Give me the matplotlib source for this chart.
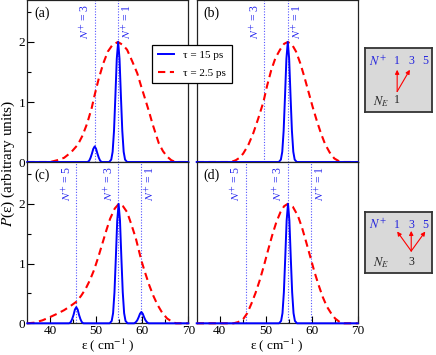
import matplotlib
matplotlib.use("Agg")
import matplotlib.pyplot as plt

plt.rcParams['font.family'] = ['Liberation Serif', 'DejaVu Serif']
plt.rcParams['mathtext.fontset'] = 'stix'

# ---- data ----
# panel (a): N_E = 1, tau = 15 ps (blue) and tau = 2.5 ps (red)
eps_blue_a = [35, 48.1, 48.45, 48.75, 49.05, 49.35, 49.65, 49.95, 50.25, 50.55, 50.85, 51.2,
              52.8, 53.25, 53.55, 53.85, 54.15, 54.45, 54.75, 55.05, 55.35, 55.65, 55.95, 56.25, 56.7, 70]
blue_a = [0, 0, 0.02, 0.07, 0.14, 0.22, 0.26, 0.22, 0.14, 0.07, 0.02, 0,
          0, 0.04, 0.17, 0.52, 1.10, 1.72, 2.0, 1.72, 1.10, 0.52, 0.17, 0.04, 0, 0]
eps_red_a = [35, 40, 41.5, 43, 44.5, 46, 47, 48, 49, 49.65, 50.5, 51.5, 52.5, 53.5, 54.7,
             55.8, 56.7, 57.8, 58.9, 59.8, 60.7, 61.5, 62.2, 63.0, 63.6, 64.5, 65.4, 66.3, 67.2, 70]
red_a = [0, 0, 0.03, 0.07, 0.16, 0.29, 0.44, 0.64, 0.90, 1.12, 1.38, 1.64, 1.84, 1.95, 2.0,
         1.95, 1.87, 1.68, 1.48, 1.25, 1.03, 0.83, 0.64, 0.45, 0.31, 0.18, 0.09, 0.03, 0, 0]

# panel (b)
eps_blue_b = [35, 52.85, 53.3, 53.6, 53.9, 54.2, 54.5, 54.8, 55.1, 55.4, 55.7, 56.0, 56.3, 56.75, 70]
blue_b = [0, 0, 0.04, 0.17, 0.52, 1.10, 1.72, 2.0, 1.72, 1.10, 0.52, 0.17, 0.04, 0, 0]
eps_red_b = [35, 42.5, 43.5, 44.3, 45.1, 46.2, 47.3, 48.4, 49.5, 50.3, 51.2, 52.1, 53.1, 54.0, 54.8,
             55.7, 56.6, 57.5, 58.4, 59.3, 60.2, 61.1, 62.0, 62.9, 63.9, 64.9, 66.0, 67.0, 70]
red_b = [0, 0, 0.03, 0.07, 0.14, 0.28, 0.48, 0.73, 1.0, 1.27, 1.53, 1.73, 1.87, 1.97, 2.0,
         1.96, 1.84, 1.65, 1.42, 1.17, 0.92, 0.69, 0.48, 0.30, 0.16, 0.06, 0.01, 0, 0]

# panel (c): N_E = 3
eps_blue_c = [35, 44.1, 44.45, 44.75, 45.05, 45.35, 45.65, 45.95, 46.25, 46.55, 46.85, 47.2,
              52.9, 53.35, 53.65, 53.95, 54.25, 54.55, 54.85, 55.15, 55.45, 55.75, 56.05, 56.35, 56.8,
              58.25, 58.6, 58.9, 59.2, 59.5, 59.8, 60.1, 60.4, 60.7, 61.0, 61.35, 70]
blue_c = [0, 0, 0.02, 0.07, 0.14, 0.23, 0.27, 0.23, 0.14, 0.07, 0.02, 0,
          0, 0.04, 0.17, 0.52, 1.10, 1.72, 2.0, 1.72, 1.10, 0.52, 0.17, 0.04, 0,
          0, 0.02, 0.05, 0.10, 0.16, 0.19, 0.16, 0.10, 0.05, 0.02, 0, 0]
eps_red_c = [35, 36.5, 38.3, 40.1, 41.5, 43.0, 44.4, 45.65, 46.7, 47.7, 48.6, 49.5, 50.4, 51.3,
             52.2, 53.0, 54.0, 54.9, 55.8, 56.7, 57.6, 58.6, 59.8, 60.6, 61.5, 62.4, 63.3, 64.3,
             65.4, 66.4, 67.3, 70]
red_c = [0, 0.01, 0.05, 0.11, 0.16, 0.22, 0.29, 0.36, 0.46, 0.58, 0.72, 0.89, 1.10, 1.33,
         1.56, 1.75, 1.92, 2.0, 1.96, 1.86, 1.66, 1.42, 1.05, 0.85, 0.64, 0.46, 0.31, 0.18,
         0.08, 0.03, 0, 0]

# panel (d)
eps_blue_d = [35, 52.9, 53.35, 53.65, 53.95, 54.25, 54.55, 54.85, 55.15, 55.45, 55.75, 56.05, 56.35, 56.8, 70]
blue_d = [0, 0, 0.04, 0.17, 0.52, 1.10, 1.72, 2.0, 1.72, 1.10, 0.52, 0.17, 0.04, 0, 0]
eps_red_d = [35, 43.0, 44.0, 45.1, 46.0, 46.9, 47.8, 48.7, 49.6, 50.5, 51.4, 52.3, 53.2, 54.0, 54.8,
             55.9, 57.0, 57.9, 58.8, 59.7, 60.6, 61.5, 62.4, 63.3, 64.2, 65.1, 66.1, 67.0, 70]
red_d = [0, 0, 0.02, 0.07, 0.17, 0.33, 0.51, 0.72, 0.96, 1.22, 1.47, 1.69, 1.86, 1.96, 2.0,
         1.95, 1.80, 1.60, 1.36, 1.11, 0.86, 0.64, 0.44, 0.28, 0.17, 0.08, 0.02, 0, 0]

# rotational line positions and their labels
lines_top = [49.65, 54.8]
labels_top = ['3', '1']
lines_bot = [45.65, 54.8, 59.8]
labels_bot = ['5', '3', '1']

panels = [
    ('(a)', eps_blue_a, blue_a, eps_red_a, red_a, lines_top, labels_top),
    ('(b)', eps_blue_b, blue_b, eps_red_b, red_b, lines_top, labels_top),
    ('(c)', eps_blue_c, blue_c, eps_red_c, red_c, lines_bot, labels_bot),
    ('(d)', eps_blue_d, blue_d, eps_red_d, red_d, lines_bot, labels_bot),
]

W, H = 436, 355
fig = plt.figure(figsize=(W / 100, H / 100), dpi=100)

# axes boxes in pixels: left, top, width, height
boxes = [(27.3, 0, 161, 162), (196.7, 0, 161, 162),
         (27.3, 162, 161, 161.3), (196.7, 162, 161, 161.3)]

blue = '#0000ff'
red = '#ff0000'
dotblue = '#5555ff'

axes = []
for i, (name, xb, yb, xr, yr, lpos, llab) in enumerate(panels):
    l, t, w, h = boxes[i]
    ax = fig.add_axes([l / W, 1 - (t + h) / H, w / W, h / H])
    axes.append(ax)
    for k, p in enumerate(lpos):
        ax.axvline(p, color=dotblue, lw=0.8, ls=(0, (1, 1.5)), zorder=1)
        off = 2.0 if llab[k] == '1' else -2.0
        ax.text(p + off, 2.64, r'$N^{+}$ = ' + llab[k], rotation=90, ha='center', va='top',
                color='#2828ee', fontsize=8.5)
    ax.plot(xr, yr, color=red, lw=1.5, dashes=(3.5, 2.2), zorder=3, clip_on=False)
    ax.plot(xb, yb, color=blue, lw=1.4, zorder=4, clip_on=False)
    ax.set_xlim(35, 70)
    ax.set_ylim(0, 2.7)
    ax.text(0.042, 0.92, name, transform=ax.transAxes, fontsize=10, va='center', ha='left')
    for s in ax.spines.values():
        s.set_color('#222222')
        s.set_linewidth(0.9)
    ax.tick_params(which='both', direction='in', top=False, right=False, width=0.8,
                   labelsize=9.5, pad=1.5)
    ax.tick_params(which='major', length=5)
    ax.tick_params(which='minor', length=2.8)
    if i in (0, 2):
        ax.set_yticks([0, 1, 2])
        ax.set_yticks([0.5, 1.5, 2.5], minor=True)
    else:
        ax.set_yticks([])
        ax.set_yticks([], minor=True)
    if i in (2, 3):
        ax.set_xticks([40, 50, 60, 70])
        ax.set_xticks([45, 55, 65], minor=True)
        cx = (l + w / 2) / W
        fig.text(cx, 1 - 354 / H, r'ε ( cm$^{-1}$ )', ha='center', va='bottom', fontsize=9.5)
    else:
        ax.set_xticks([])
        ax.set_xticks([], minor=True)

fig.text(8 / W, 1 - 163 / H, r'$P$(ε) (arbitrary units)', rotation=90, ha='center',
         va='center', fontsize=11)

# legend
h1, = axes[0].plot([], [], color=blue, lw=1.4, label='τ = 15 ps')
h2, = axes[0].plot([], [], color=red, lw=1.5, dashes=(3.5, 2.2), label='τ = 2.5 ps')
leg = fig.legend(handles=[h1, h2], loc='upper left', bbox_to_anchor=(152 / W, 1 - 45 / H),
                 borderaxespad=0, fancybox=False, fontsize=8, handlelength=1.5,
                 handletextpad=0.8, borderpad=0.5, labelspacing=0.7, framealpha=1)
leg.get_frame().set_edgecolor('black')
leg.get_frame().set_linewidth(0.9)


# schematic insets
def inset(top, height, low_label, starts, ends, low_x):
    a = fig.add_axes([365 / W, 1 - (top + height) / H, 67 / W, height / H])
    a.set_facecolor('#d9d9d9')
    a.set_xlim(0, 1)
    a.set_ylim(0, 1)
    a.set_xticks([])
    a.set_yticks([])
    for s in a.spines.values():
        s.set_color('#333333')
        s.set_linewidth(1.3)
    yt = 0.79
    a.text(0.19, yt, r'$N^{+}$', color='#2020dd', fontsize=9, ha='center', va='center')
    for xx, t in zip([0.48, 0.69, 0.90], ['1', '3', '5']):
        a.text(xx, yt, t, color='#2020dd', fontsize=8.5, ha='center', va='center')
    a.text(0.24, 0.17, r'$N_E$', color='#222222', fontsize=9, ha='center', va='center')
    a.text(low_x, 0.18, low_label, color='#222222', fontsize=8.5, ha='center', va='center')
    for e in ends:
        a.annotate('', xy=e, xytext=starts,
                   arrowprops=dict(arrowstyle='-|>', color=red, lw=0.8,
                                   mutation_scale=6, shrinkA=0, shrinkB=0))


inset(48, 64, '1', (0.48, 0.32), [(0.48, 0.66), (0.67, 0.66)], 0.48)
inset(212, 61, '3', (0.69, 0.36), [(0.48, 0.68), (0.69, 0.69), (0.90, 0.68)], 0.69)

fig.savefig('out.png', dpi=100)
